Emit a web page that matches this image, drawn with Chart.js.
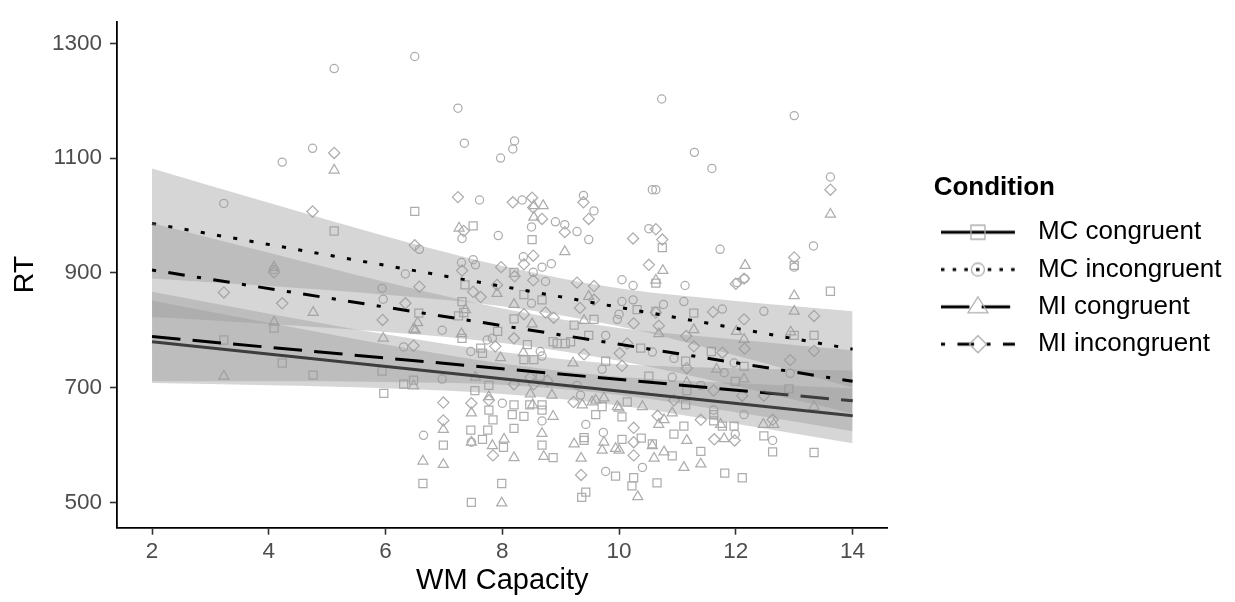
<!DOCTYPE html>
<html>
<head>
<meta charset="utf-8">
<title>RT by WM Capacity</title>
<script src="https://cdn.jsdelivr.net/npm/chart.js@4.4.1/dist/chart.umd.min.js"></script>
<style>
  html, body { margin: 0; padding: 0; background: #ffffff; }
  #wrap { width: 1235px; height: 602px; }
</style>
</head>
<body>
<div id="wrap"><canvas id="chart" width="1235" height="602"></canvas></div>
<script>
// ---- data -------------------------------------------------------------
const conditions = ['MC congruent', 'MC incongruent', 'MI congruent', 'MI incongruent'];

// raw observations: [WM capacity, RT]
const mcCongruent = [
  [3.23,783],[4.09,804],[4.23,743],[4.76,722],[5.12,973],[5.94,729],[5.97,690],[6.31,706],[6.48,713],
  [6.5,1007],[6.57,830],[6.64,533],[6.99,600],[7.25,825],[7.31,850],[7.31,786],[7.34,831],[7.36,879],
  [7.46,626],[7.47,500],[7.5,982],[7.53,695],[7.63,769],[7.66,760],[7.66,610],[7.75,626],[7.77,704],
  [7.77,661],[7.84,644],[7.92,798],[7.99,533],[8.02,596],[8.17,653],[8.2,670],[8.2,629],[8.2,820],
  [8.2,901],[8.37,650],[8.37,749],[8.37,862],[8.43,775],[8.47,670],[8.51,958],[8.54,749],[8.65,720],
  [8.68,670],[8.68,661],[8.68,600],[8.68,853],[8.87,578],[8.87,780],[8.94,777],[9.08,777],[9.17,780],
  [9.23,809],[9.36,509],[9.4,613],[9.4,608],[9.43,518],[9.48,791],[9.57,819],[9.6,653],[9.71,667],
  [9.77,746],[9.94,546],[10.05,649],[10.05,610],[10.14,675],[10.22,529],[10.25,543],[10.31,836],
  [10.37,769],[10.38,612],[10.51,720],[10.57,602],[10.63,882],[10.63,833],[10.65,534],[10.74,944],
  [10.91,581],[10.94,619],[11.11,633],[11.14,670],[11.14,746],[11.16,695],[11.28,830],[11.4,589],
  [11.58,763],[11.62,642],[11.62,653],[11.77,633],[11.81,551],[11.97,633],[11.99,711],[12.11,543],
  [12.14,737],[12.48,616],[12.63,588],[12.91,698],[13.0,913],[13.0,791],[13.34,791],[13.34,587],[13.62,868]
];
const mcIncongruent = [
  [3.23,1021],[4.09,906],[4.23,1093],[4.75,1117],[5.12,1256],[5.94,873],[5.96,854],[6.31,771],[6.34,898],
  [6.5,1277],[6.58,941],[6.65,617],[6.97,800],[6.97,715],[7.24,1187],[7.3,918],[7.31,960],[7.35,1126],
  [7.46,763],[7.47,605],[7.5,923],[7.54,914],[7.61,1027],[7.74,783],[7.83,786],[7.93,965],[7.97,1100],
  [8.0,673],[8.18,1116],[8.21,1130],[8.34,1027],[8.36,928],[8.5,980],[8.5,847],[8.53,901],[8.65,763],
  [8.68,755],[8.68,642],[8.68,910],[8.74,885],[8.84,916],[8.91,989],[9.07,984],[9.28,972],[9.28,704],
  [9.34,687],[9.39,1035],[9.43,636],[9.48,958],[9.57,1008],[9.71,732],[9.73,622],[9.77,791],[9.77,554],
  [9.97,819],[10.0,828],[10.05,888],[10.05,850],[10.24,878],[10.24,853],[10.4,561],[10.51,977],
  [10.57,1045],[10.63,1045],[10.57,762],[10.73,1203],[10.76,845],[10.91,718],[10.94,751],[11.11,850],
  [11.13,878],[11.29,1110],[11.4,704],[11.59,1082],[11.62,661],[11.73,941],[11.77,837],[11.8,726],
  [11.97,743],[11.99,619],[12.02,883],[12.14,653],[12.15,890],[12.48,833],[12.63,608],[12.93,725],
  [13.0,910],[13.0,1174],[13.33,947],[13.62,1067]
];
const miCongruent = [
  [3.23,720],[4.09,910],[4.09,814],[4.76,831],[5.12,1079],[5.96,786],[6.48,703],[6.48,802],[6.51,800],
  [6.55,813],[6.64,572],[6.99,627],[6.99,566],[7.26,978],[7.3,794],[7.37,836],[7.47,656],[7.47,605],
  [7.54,718],[7.77,684],[7.83,599],[7.91,864],[7.97,752],[7.99,499],[8.03,610],[8.2,578],[8.2,845],
  [8.36,761],[8.48,689],[8.52,670],[8.51,811],[8.54,1017],[8.54,997],[8.68,620],[8.7,1017],[8.71,580],
  [8.85,687],[8.87,650],[9.07,937],[9.21,743],[9.23,602],[9.35,577],[9.37,670],[9.4,817],[9.48,859],
  [9.54,675],[9.6,678],[9.71,591],[9.74,682],[9.74,605],[9.94,594],[9.97,667],[10.0,591],[10.0,664],
  [10.32,510],[10.4,667],[10.57,599],[10.6,577],[10.63,887],[10.68,794],[10.68,636],[10.75,904],
  [10.77,644],[10.77,588],[10.91,656],[11.11,561],[11.16,608],[11.16,709],[11.28,801],[11.4,567],
  [11.67,732],[11.74,636],[11.8,611],[12.01,798],[12.14,784],[12.14,715],[12.16,913],[12.47,636],
  [12.65,636],[12.94,797],[13.0,860],[13.0,833],[13.34,667],[13.62,1002]
];
const miIncongruent = [
  [3.23,866],[4.09,901],[4.23,847],[4.75,1007],[5.12,1109],[5.95,818],[6.34,847],[6.48,773],[6.5,948],
  [6.58,876],[6.99,674],[6.99,643],[7.24,1032],[7.31,904],[7.34,973],[7.47,673],[7.5,867],[7.63,858],
  [7.77,678],[7.84,582],[7.88,772],[7.91,879],[7.98,910],[8.18,1023],[8.2,786],[8.2,706],[8.21,894],
  [8.37,915],[8.37,828],[8.48,718],[8.51,1031],[8.53,1014],[8.53,930],[8.53,887],[8.54,706],[8.68,994],
  [8.74,831],[8.77,712],[8.88,822],[9.07,971],[9.22,675],[9.28,883],[9.33,839],[9.35,548],[9.39,1023],
  [9.4,758],[9.48,994],[9.57,877],[9.57,853],[10.01,760],[10.05,738],[10.14,777],[10.24,960],[10.25,812],
  [10.25,630],[10.25,582],[10.25,605],[10.51,914],[10.63,976],[10.63,831],[10.66,651],[10.68,808],
  [10.74,958],[10.94,678],[11.15,790],[11.16,734],[11.28,772],[11.4,644],[11.61,832],[11.62,695],
  [11.63,610],[11.77,761],[11.98,608],[12.0,881],[12.11,686],[12.14,890],[12.14,819],[12.15,768],
  [12.48,686],[12.63,644],[12.93,748],[13.0,927],[13.34,825],[13.34,764],[13.62,1045]
];

// fitted regression lines, evaluated at the ends of the observed range
const fitX = [2, 14];
const fitMcCongruent = [780, 651];
const fitMcIncongruent = [986, 767];
const fitMiCongruent = [789, 677];
const fitMiIncongruent = [905, 711];

// 95% confidence band of each fit
const bandX = [2, 4, 6, 8, 10, 12, 14];
const bandMcCongruentLow = [708, 704, 699, 689, 669, 637, 603];
const bandMcCongruentHigh = [852, 813, 775, 742, 719, 708, 699];
const bandMcIncongruentLow = [890, 877, 862, 842, 807, 756, 700];
const bandMcIncongruentHigh = [1082, 1022, 964, 912, 873, 851, 833];
const bandMiCongruentLow = [711, 711, 710, 705, 687, 657, 624];
const bandMiCongruentHigh = [867, 829, 793, 762, 741, 734, 730];
const bandMiIncongruentLow = [823, 811, 797, 778, 747, 703, 655];
const bandMiIncongruentHigh = [987, 935, 884, 838, 804, 784, 765];

const xTicks = [2, 4, 6, 8, 10, 12, 14];
const yTicks = [500, 700, 900, 1100, 1300];

// ---- styling -----------------------------------------------------------
const FONT = "'Liberation Sans', Arial, Helvetica, sans-serif";
const POINT_COLOR = '#adadad';
const RIBBON = 'rgba(153,153,153,0.4)';
const pointShapes = ['rect', 'circle', 'triangle', 'rectRot'];
const pointSizes = [5.7, 4.1, 5.8, 5.6];
const lineDashes = [[], [4.1, 12.4], [28.5, 12.2], [4.1, 12.4, 16.6, 12.4]];
const keyDashes = [[], [3.5, 8.2], [28.5, 12.2], [4.1, 12.4, 16.6, 12.4]];

const observations = [mcCongruent, mcIncongruent, miCongruent, miIncongruent];
const fits = [fitMcCongruent, fitMcIncongruent, fitMiCongruent, fitMiIncongruent];
const bandsLow = [bandMcCongruentLow, bandMcIncongruentLow, bandMiCongruentLow, bandMiIncongruentLow];
const bandsHigh = [bandMcCongruentHigh, bandMcIncongruentHigh, bandMiCongruentHigh, bandMiIncongruentHigh];

const toXY = (xs, ys) => xs.map((x, i) => ({ x: x, y: ys[i] }));

// ---- datasets (drawn in array order) -------------------------------------
const datasets = [];
observations.forEach((obs, i) => {
  datasets.push({
    label: conditions[i] + ' points',
    data: obs.map(p => ({ x: p[0], y: p[1] })),
    showLine: false,
    pointStyle: pointShapes[i],
    pointRadius: pointSizes[i],
    pointHoverRadius: pointSizes[i],
    pointBorderWidth: 1.25,
    pointBorderColor: POINT_COLOR,
    pointBackgroundColor: 'rgba(0,0,0,0)',
    borderColor: POINT_COLOR,
    backgroundColor: 'rgba(0,0,0,0)'
  });
});
conditions.forEach((name, i) => {
  const lowIndex = datasets.length;
  datasets.push({
    label: name + ' lower',
    data: toXY(bandX, bandsLow[i]),
    pointRadius: 0, borderWidth: 0, borderColor: 'rgba(0,0,0,0)',
    cubicInterpolationMode: 'monotone', fill: false
  });
  datasets.push({
    label: name + ' upper',
    data: toXY(bandX, bandsHigh[i]),
    pointRadius: 0, borderWidth: 0, borderColor: 'rgba(0,0,0,0)',
    cubicInterpolationMode: 'monotone',
    fill: { target: lowIndex }, backgroundColor: RIBBON
  });
  datasets.push({
    label: name,
    data: toXY(fitX, fits[i]),
    pointRadius: 0, borderWidth: 3, borderColor: '#000000',
    borderDash: lineDashes[i], borderCapStyle: 'butt', fill: false
  });
});
// earlier entries are painted first (underneath)
datasets.forEach((d, idx) => { d.order = datasets.length - idx; });

// ---- legend keys: line type with the point shape on top ------------------
function makeKey(i) {
  const c = document.createElement('canvas');
  c.width = 88; c.height = 26;
  const g = c.getContext('2d');
  const cx = 37, cy = 13;
  g.strokeStyle = '#000'; g.lineWidth = 3; g.lineCap = 'butt';
  g.setLineDash(keyDashes[i]);
  g.beginPath(); g.moveTo(0, cy); g.lineTo(74, cy); g.stroke();
  g.setLineDash([]);
  g.strokeStyle = POINT_COLOR; g.lineWidth = 1.3;
  g.beginPath();
  if (i === 0) { g.rect(cx - 7, cy - 7, 14, 14); }
  else if (i === 1) { g.arc(cx, cy, 6.5, 0, Math.PI * 2); }
  else if (i === 2) {
    const r = 10.5;
    g.moveTo(cx, cy - r * 0.95);
    g.lineTo(cx + r * 0.95, cy + r * 0.55);
    g.lineTo(cx - r * 0.95, cy + r * 0.55);
    g.closePath();
  } else {
    const r = 8.5;
    g.moveTo(cx - r, cy); g.lineTo(cx, cy - r); g.lineTo(cx + r, cy); g.lineTo(cx, cy + r);
    g.closePath();
  }
  g.stroke();
  return c;
}
const legendKeys = conditions.map((_, i) => makeKey(i));

// place the legend block a little away from the plotting panel
const legendGap = 46;
const legendLift = 6;
const shiftLegend = {
  id: 'shiftLegend',
  afterLayout(chart) {
    const lg = chart.legend;
    if (lg) {
      lg.left += legendGap; lg.right += legendGap;
      lg.top -= legendLift; lg.bottom -= legendLift;
    }
  }
};

Chart.defaults.font.family = FONT;

new Chart(document.getElementById('chart'), {
  type: 'line',
  data: { datasets: datasets },
  plugins: [shiftLegend],
  options: {
    responsive: false,
    devicePixelRatio: 1,
    animation: false,
    events: [],
    layout: { padding: { top: 7, left: 0, bottom: 0, right: 51.5 } },
    scales: {
      x: {
        type: 'linear', min: 1.4, max: 14.6,
        afterBuildTicks(scale) { scale.ticks = xTicks.map(v => ({ value: v })); },
        afterFit(scale) { scale.height = 74.3; },
        grid: { display: true, drawOnChartArea: false, drawTicks: true, tickLength: 7, tickColor: '#333333', tickWidth: 1.6 },
        border: { display: true, color: '#000000', width: 1.8 },
        ticks: { color: '#4d4d4d', font: { size: 22.5 }, padding: 4, maxRotation: 0, callback: v => String(v) },
        title: { display: true, text: 'WM Capacity', color: '#000000', font: { size: 29 }, padding: { top: 0, bottom: 3.5 } }
      },
      y: {
        type: 'linear', min: 456, max: 1338,
        afterBuildTicks(scale) { scale.ticks = yTicks.map(v => ({ value: v })); },
        afterFit(scale) { scale.width = 117; },
        grid: { display: true, drawOnChartArea: false, drawTicks: true, tickLength: 7, tickColor: '#333333', tickWidth: 1.6 },
        border: { display: true, color: '#000000', width: 1.8 },
        ticks: { color: '#4d4d4d', font: { size: 22.5 }, padding: 8, callback: v => String(v) },
        title: { display: true, text: 'RT', color: '#000000', font: { size: 28.5 }, padding: { top: 8.5, bottom: 0 } }
      }
    },
    plugins: {
      tooltip: { enabled: false },
      filler: { drawTime: 'beforeDatasetDraw' },
      legend: {
        display: true,
        position: 'right',
        align: 'center',
        fullSize: false,
        title: { display: true, position: 'start', text: 'Condition', color: '#000000', font: { size: 26, weight: 'bold' }, padding: { top: 6, bottom: 2 } },
        labels: {
          usePointStyle: true,
          pointStyleWidth: 80,
          padding: 11.3,
          color: '#000000',
          font: { size: 26 },
          generateLabels() {
            return conditions.map((name, i) => ({
              text: name,
              pointStyle: legendKeys[i],
              fillStyle: 'rgba(0,0,0,0)',
              strokeStyle: 'rgba(0,0,0,0)',
              lineWidth: 0,
              fontColor: '#000000',
              hidden: false,
              datasetIndex: 4 + i * 3 + 2
            }));
          }
        }
      }
    }
  }
});
</script>
</body>
</html>
